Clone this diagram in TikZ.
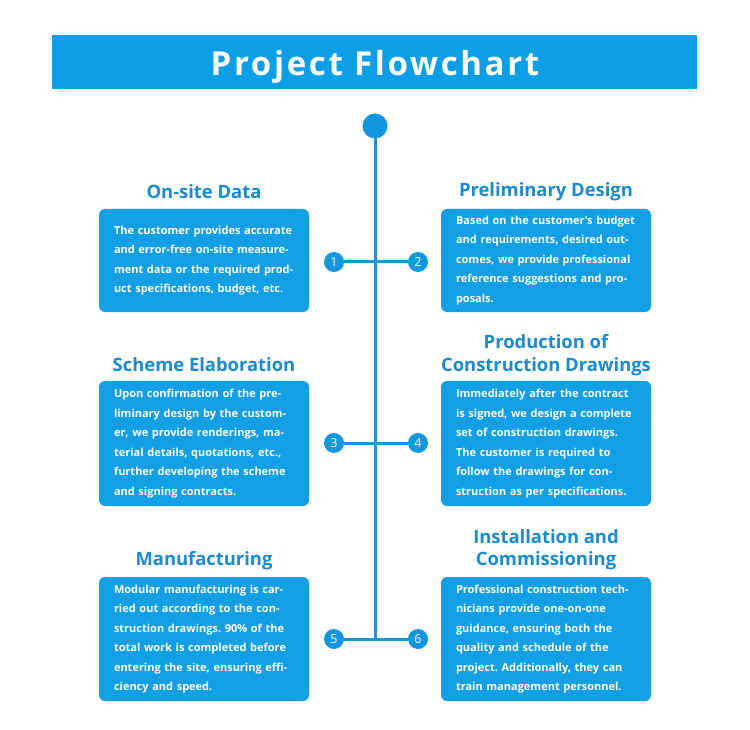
\documentclass[tikz,border=0pt]{standalone}
\usepackage{fontspec}
\setmainfont[Ligatures=NoCommon]{Open Sans}
\newfontfamily\titlefont[LetterSpace=8]{Open Sans}
\definecolor{barblue}{HTML}{0C9FE8}
\definecolor{boxblue}{HTML}{139FE5}
\definecolor{headblue}{HTML}{1B8BD1}
\definecolor{lineblue}{HTML}{1496DE}
\frenchspacing
\begin{document}
\begin{tikzpicture}[x=1pt,y=-1pt,
  box/.style={fill=boxblue, rounded corners=6pt, minimum width=210pt, inner xsep=15pt, text width=180pt, align=left, text=white, font=\bfseries\fontsize{11}{19.5}\selectfont},
  head/.style={text=headblue, align=center, font=\bfseries\fontsize{18.4}{22.5}\selectfont},
  num/.style={circle, fill=lineblue, minimum size=20pt, inner sep=0pt, text=white, font=\fontsize{12.5}{12.5}\selectfont},
  conn/.style={draw=lineblue, line width=3pt}]
\useasboundingbox (0,0) rectangle (750,730);
\fill[white] (0,0) rectangle (750,730);
% title
\node[fill=barblue, minimum width=645pt, minimum height=54pt, inner sep=0pt] (title) at (374.5,62) {};
\node[anchor=base, text=white, font=\titlefont\bfseries\fontsize{33}{36}\selectfont] (titletext) at (375,76) {Project Flowchart};
% spine
\node[circle, fill=lineblue, minimum size=25pt, inner sep=0pt] (top) at (375,126) {};
\coordinate (bot) at (375,639);
\draw[conn] (top.center) -- (bot);
% numbers
\node[num] (n1) at (334,262) {1};
\node[num] (n2) at (418,262) {2};
\node[num] (n3) at (334,443) {3};
\node[num] (n4) at (418,443) {4};
\node[num] (n5) at (334,639) {5};
\node[num] (n6) at (418,639) {6};
\draw[conn] (n1) -- (n2);
\draw[conn] (n3) -- (n4);
\draw[conn] (n5) -- (n6);
% row 1
\node[head] (h1) at (204,192) {On-site Data};
\node[box, minimum height=103pt] (b1) at (204,260.5) {The customer provides accurate\\and error-free on-site measure-\\ment data or the required prod-\\uct specifications, budget, etc.};
\node[head] (h2) at (546,192) {Preliminary Design};
\node[box, minimum height=103pt] (b2) at (546,260.5) {Based on the customer's budget\\and requirements, desired out-\\comes, we provide professional\\reference suggestions and pro-\\posals.};
% row 2
\node[head] (h3) at (204,365) {Scheme Elaboration};
\node[box, minimum height=125pt] (b3) at (204,443.5) {Upon confirmation of the pre-\\liminary design by the custom-\\er, we provide renderings, ma-\\terial details, quotations, etc.,\\further developing the scheme\\and signing contracts.};
\node[head] (h4) at (546,355) {Production of\\Construction Drawings};
\node[box, minimum height=125pt] (b4) at (546,443.5) {Immediately after the contract\\is signed, we design a complete\\set of construction drawings.\\The customer is required to\\follow the drawings for con-\\struction as per specifications.};
% row 3
\node[head] (h5) at (204,561) {Manufacturing};
\node[box, minimum height=124pt] (b5) at (204,639) {Modular manufacturing is car-\\ried out according to the con-\\struction drawings. 90\% of the\\total work is completed before\\entering the site, ensuring effi-\\ciency and speed.};
\node[head] (h6) at (546,549.5) {Installation and\\Commissioning};
\node[box, minimum height=124pt] (b6) at (546,639) {Professional construction tech-\\nicians provide one-on-one\\guidance, ensuring both the\\quality and schedule of the\\project. Additionally, they can\\train management personnel.};
\end{tikzpicture}
\end{document}
